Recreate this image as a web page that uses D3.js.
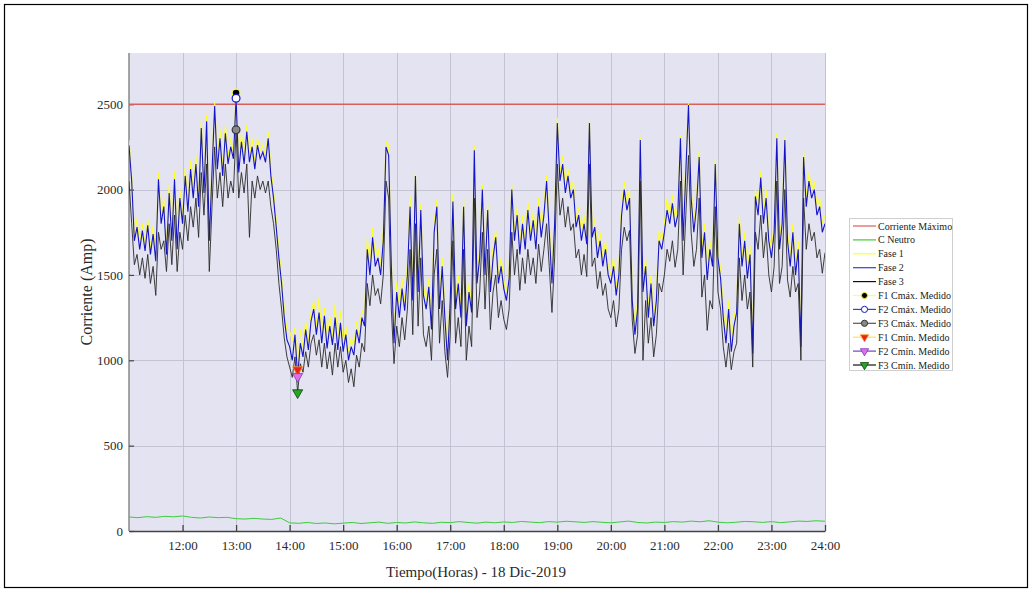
<!DOCTYPE html>
<html>
<head>
<meta charset="utf-8">
<script src="https://cdn.jsdelivr.net/npm/d3@7"></script>
<style>
  html, body { margin: 0; padding: 0; background: #fff; }
  svg { display: block; font-family: "Liberation Serif", "Times New Roman", serif; }
</style>
</head>
<body>
<svg id="chart" width="1032" height="592"></svg>
<script>
// Phase currents sampled every 3 minutes from 11:00 to 24:00 (Amp)
const startHour = 11;
const stepMinutes = 3;

const fase1 = [
  2290, 2080, 1740, 1830, 1680, 1800, 1670, 1830, 1650, 1790, 1610, 2100, 1830, 1950, 1650, 2030, 1730, 2110, 1680, 2000,
  1840, 2130, 1900, 2170, 1990, 2200, 1930, 2410, 2010, 2440, 1740, 2150, 2510, 2170, 2350, 2120, 2380, 2190, 2300, 2220,
  2565, 2150, 2330, 2190, 2380, 2200, 2300, 2160, 2300, 2230, 2260, 2200, 2340, 2120, 1990, 1820, 1640, 1490, 1300, 1170,
  1170, 1120, 1190, 945, 1180, 1080, 1230, 1110, 1280, 1350, 1200, 1370, 1150, 1310, 1120, 1260, 1140, 1330, 1110, 1290,
  1100, 1200, 1050, 1130, 1080, 1230, 1150, 1300, 1250, 1720, 1550, 1780, 1600, 1660, 1560, 1760, 2280, 2260, 1600, 1140,
  1460, 1300, 1480, 1340, 1560, 1960, 1400, 2110, 1450, 1920, 1440, 1350, 1480, 1230, 1800, 1940, 1350, 1600, 1300, 1040,
  1400, 1980, 1350, 1500, 1300, 1950, 1250, 1450, 1330, 2260, 1500, 1650, 2030, 1550, 1920, 1450, 1660, 1760, 1500, 1600,
  1470, 1400, 1530, 2030, 1750, 1900, 1670, 1850, 1700, 1930, 1750, 1870, 1700, 1950, 1770, 1900, 2080, 1800, 1500, 1850,
  2420, 2100, 2200, 2030, 2120, 2000, 2050, 1830, 1900, 1750, 1850, 1730, 2410, 1780, 1830, 1650, 1750, 1600, 1700, 1550,
  1500, 1600, 1430, 1550, 1900, 2050, 1920, 2000, 1400, 1200, 1350, 2310, 1450, 1600, 1300, 1500, 1250, 1400, 1760, 1700,
  1800, 1950, 1850, 1970, 1830, 1900, 2320, 1750, 2150, 2505, 2000, 1800, 1950, 2230, 1650, 1800, 1520, 1700, 1600, 2180,
  1650, 1530, 1300, 1150, 1350, 1100, 1250, 1330, 1850, 1600, 1750, 1530, 1670, 1090, 2000, 1900, 2110, 1850, 2000, 1750,
  1650, 1800, 2330, 1700, 1850, 2310, 1750, 1600, 1800, 1550, 1700, 1130, 2230, 1950, 2100, 2000, 2050, 1900, 1950, 1800,
  1850
];

const fase2 = [
  2260, 2050, 1700, 1780, 1650, 1760, 1640, 1790, 1620, 1740, 1580, 2060, 1800, 1900, 1620, 1980, 1700, 2060, 1650, 1950,
  1800, 2080, 1870, 2120, 1950, 2150, 1900, 2360, 1980, 2400, 1700, 2100, 2490, 2120, 2300, 2080, 2330, 2150, 2250, 2180,
  2535, 2100, 2280, 2150, 2340, 2160, 2250, 2120, 2260, 2180, 2220, 2160, 2300, 2080, 1950, 1780, 1600, 1450, 1250, 1120,
  1080, 1000, 1150, 905, 1100, 1020, 1180, 1060, 1230, 1300, 1150, 1280, 1100, 1260, 1070, 1200, 1090, 1250, 1060, 1220,
  1050, 1150, 1000, 1080, 1030, 1180, 1100, 1250, 1200, 1650, 1500, 1720, 1550, 1600, 1500, 1700, 2250, 2200, 1550, 1100,
  1400, 1250, 1420, 1290, 1500, 1900, 1350, 2080, 1400, 1880, 1380, 1300, 1430, 1180, 1750, 1900, 1300, 1550, 1250, 1000,
  1350, 1930, 1300, 1450, 1250, 1900, 1200, 1400, 1280, 2230, 1450, 1600, 2000, 1500, 1880, 1400, 1600, 1720, 1450, 1550,
  1420, 1350, 1480, 2000, 1700, 1850, 1620, 1800, 1650, 1880, 1700, 1820, 1650, 1900, 1720, 1850, 2050, 1750, 1450, 1800,
  2390, 2050, 2150, 1980, 2080, 1950, 2000, 1780, 1850, 1700, 1800, 1680, 2390, 1720, 1780, 1600, 1700, 1550, 1650, 1500,
  1450, 1550, 1380, 1500, 1850, 2000, 1880, 1950, 1350, 1150, 1300, 2290, 1400, 1550, 1250, 1450, 1200, 1350, 1700, 1650,
  1750, 1880, 1800, 1920, 1780, 1850, 2300, 1700, 2100, 2495, 1950, 1750, 1900, 2190, 1600, 1750, 1470, 1650, 1550, 2150,
  1600, 1480, 1250, 1100, 1300, 1050, 1200, 1280, 1800, 1550, 1700, 1480, 1620, 1040, 1960, 1850, 2070, 1800, 1950, 1700,
  1600, 1750, 2300, 1650, 1800, 2290, 1700, 1550, 1750, 1500, 1650, 1080, 2190, 1900, 2050, 1950, 2000, 1850, 1900, 1750,
  1800
];

const fase3 = [
  2050, 1800, 1560, 1620, 1500, 1600, 1480, 1620, 1450, 1550, 1380, 1750, 1650, 1700, 1520, 1800, 1560, 1850, 1520, 1750,
  1650, 1850, 1700, 1900, 1780, 1950, 1720, 2100, 1850, 2150, 1520, 1900, 2250, 1950, 2100, 1900, 2150, 1950, 2050, 1980,
  2350, 1950, 2100, 1980, 2150, 1720, 2050, 1950, 2080, 2000, 2050, 1980, 2050, 1900, 1800, 1650, 1450, 1300, 1130, 1020,
  960, 900, 1020, 810, 980, 930, 1050, 960, 1100, 1150, 1030, 1120, 960, 1100, 950, 1050, 913, 1100, 960, 1080,
  930, 1000, 870, 950, 845, 1030, 960, 1100, 1050, 1450, 1320, 1500, 1380, 1420, 1330, 1500, 2050, 1950, 1300, 980,
  1200, 1080, 1250, 1120, 1300, 1650, 1150, 1800, 1200, 1600, 1150, 1080, 1200, 1000, 1500, 1650, 1100, 1350, 1050, 900,
  1150, 1700, 1100, 1250, 1080, 1650, 1000, 1200, 1080, 1950, 1250, 1400, 1750, 1300, 1650, 1180, 1400, 1500, 1250, 1350,
  1240, 1180, 1300, 1750, 1500, 1650, 1410, 1600, 1450, 1650, 1500, 1600, 1450, 1680, 1520, 1650, 1800, 1550, 1280, 1600,
  2150, 1850, 1950, 1780, 1900, 1760, 1800, 1600, 1650, 1500, 1620, 1490, 2150, 1550, 1600, 1420, 1520, 1380, 1450, 1300,
  1250, 1350, 1195, 1300, 1650, 1780, 1700, 1760, 1235, 1040, 1150, 2050, 1000, 1350, 1100, 1250, 1020, 1150, 1450, 1400,
  1500, 1650, 1580, 1700, 1545, 1650, 2050, 1500, 1850, 2200, 1750, 1550, 1650, 1950, 1370, 1500, 1175, 1350, 1300, 1900,
  1400, 1300, 1080, 960, 1100, 945, 1050, 1100, 1600, 1350, 1500, 1300, 1400, 960, 1750, 1650, 1850, 1600, 1750, 1500,
  1400, 1550, 2050, 1450, 1550, 2000, 1470, 1370, 1550, 1400, 1450, 1000, 1950, 1650, 1800, 1700, 1750, 1600, 1650, 1510,
  1630
];

// Neutral current sampled every 10 minutes
const neutroStepMinutes = 10;
const neutro = [
  82, 78, 84, 80, 86, 83,
  88, 80, 76, 82, 78, 80,
  72, 70, 74, 70, 68, 76,
  48, 45, 50, 44, 47, 42,
  46, 50, 44, 48, 52, 45,
  50, 47, 53, 48, 45, 51,
  49, 55, 50, 46, 52, 48,
  53, 50, 56, 52, 49, 55,
  52, 57, 54, 50, 55, 51,
  48, 53, 58, 50, 47, 52,
  50, 55, 52, 58, 54, 60,
  52, 48, 51, 56, 54, 50,
  55, 49, 53, 58, 56, 60,
  57
];

const corrienteMaxima = 2500;

// Measured maxima (13:00) and minima (14:09) per phase
const maxHours = [13.0, 13.0, 13.0];
const maxValues = [2565, 2535, 2350];
const minHours = [14.15, 14.15, 14.15];
const minValues = [945, 905, 810];

const hourTicks = [12, 13, 14, 15, 16, 17, 18, 19, 20, 21, 22, 23, 24];
const yTicks = [0, 500, 1000, 1500, 2000, 2500];

const legendNames = [
  "Corriente Máximo", "C Neutro", "Fase 1", "Fase 2", "Fase 3",
  "F1 Cmáx. Medido", "F2 Cmáx. Medido", "F3 Cmáx. Medido",
  "F1 Cmín. Medido", "F2 Cmín. Medido", "F3 Cmín. Medido"
];

// ---------------------------------------------------------------
const svg = d3.select("#chart");
const W = 1032, H = 592;
const plot = { left: 129, right: 825, top: 53, bottom: 531 };

const x = d3.scaleLinear().domain([11, 24]).range([plot.left, plot.right]);
const y = d3.scaleLinear().domain([0, 2800]).range([plot.bottom, plot.top]);

const colors = {
  red: "#d9605a", green: "#3ccc3c", yellow: "#ffff30", blue: "#1414c8", black: "#2a2a2a"
};

// outer frame
svg.append("rect").attr("x", 4.5).attr("y", 4.5).attr("width", W - 9).attr("height", H - 9)
  .attr("fill", "#fff").attr("stroke", "#000").attr("stroke-width", 1.2);

// plot background
svg.append("rect").attr("x", plot.left).attr("y", plot.top)
  .attr("width", plot.right - plot.left).attr("height", plot.bottom - plot.top)
  .attr("fill", "#e3e3f1");

// grid
const grid = svg.append("g").attr("stroke", "#c3c3d3").attr("stroke-width", 1);
grid.selectAll("line.v").data(hourTicks).join("line")
  .attr("x1", d => Math.round(x(d)) + 0.5).attr("x2", d => Math.round(x(d)) + 0.5)
  .attr("y1", plot.top).attr("y2", plot.bottom);
grid.selectAll("line.h").data(yTicks.filter(v => v > 0)).join("line")
  .attr("x1", plot.left).attr("x2", plot.right)
  .attr("y1", d => Math.round(y(d)) + 0.5).attr("y2", d => Math.round(y(d)) + 0.5);

// axes
const xAxis = d3.axisBottom(x).tickValues(hourTicks).tickFormat(d => d + ":00")
  .tickSizeInner(-6).tickSizeOuter(0).tickPadding(10);
const gx = svg.append("g").attr("transform", `translate(0,${plot.bottom})`).call(xAxis);
gx.select(".domain").attr("stroke", "#444").attr("stroke-width", 1.3);
gx.selectAll(".tick line").attr("stroke", "#444").attr("stroke-width", 1.3);
gx.selectAll(".tick text").attr("font-size", 13).attr("fill", "#2a2a2a")
  .attr("font-family", "Liberation Serif, Times New Roman, serif");

const yAxis = d3.axisLeft(y).tickValues(yTicks).tickFormat(d3.format("d"))
  .tickSizeInner(-5).tickSizeOuter(0).tickPadding(6);
const gy = svg.append("g").attr("transform", `translate(${plot.left},0)`).call(yAxis);
gy.select(".domain").attr("stroke", "#888").attr("stroke-width", 1.5)
  .attr("d", `M0,${plot.top}V${plot.bottom}`);
gy.selectAll(".tick line").attr("stroke", "#444").attr("stroke-width", 1.2);
gy.selectAll(".tick text").attr("font-size", 13).attr("fill", "#2a2a2a")
  .attr("font-family", "Liberation Serif, Times New Roman, serif");

// series
const hourAt = (i, step) => startHour + i * step / 60;
const line = step => d3.line().x((d, i) => x(hourAt(i, step))).y(d => y(d));

svg.append("clipPath").attr("id", "plotClip").append("rect")
  .attr("x", plot.left).attr("y", plot.top)
  .attr("width", plot.right - plot.left).attr("height", plot.bottom - plot.top);

const series = svg.append("g").attr("clip-path", "url(#plotClip)").attr("fill", "none");

series.append("line").attr("x1", plot.left).attr("x2", plot.right)
  .attr("y1", y(corrienteMaxima)).attr("y2", y(corrienteMaxima))
  .attr("stroke", colors.red).attr("stroke-width", 1.5);

series.append("path").datum(neutro).attr("d", line(neutroStepMinutes))
  .attr("stroke", colors.green).attr("stroke-width", 1);
series.append("path").datum(fase1).attr("d", line(stepMinutes))
  .attr("stroke", colors.yellow).attr("stroke-width", 1.1);
series.append("path").datum(fase2).attr("d", line(stepMinutes))
  .attr("stroke", colors.blue).attr("stroke-width", 1.1);
series.append("path").datum(fase3).attr("d", line(stepMinutes))
  .attr("stroke", colors.black).attr("stroke-width", 0.9);

// markers
const maxStyles = [
  { fill: "#000", stroke: "#ffff30" },
  { fill: "#fff", stroke: "#1414c8" },
  { fill: "#888", stroke: "#333" }
];
const minStyles = [
  { fill: "#e8241a", stroke: "#ff9a20" },
  { fill: "#e46ee4", stroke: "#7a3cc0" },
  { fill: "#26a626", stroke: "#0c400c" }
];
const circleSym = d3.symbol().type(d3.symbolCircle).size(48);
const triSym = d3.symbol().type(d3.symbolTriangle).size(44);

svg.append("g").selectAll("path").data(maxValues).join("path")
  .attr("transform", (d, i) => `translate(${x(maxHours[i])},${y(d)})`)
  .attr("d", circleSym)
  .attr("fill", (d, i) => maxStyles[i].fill).attr("stroke", (d, i) => maxStyles[i].stroke)
  .attr("stroke-width", 1.2);

svg.append("g").selectAll("path").data(minValues).join("path")
  .attr("transform", (d, i) => `translate(${x(minHours[i])},${y(d)}) rotate(180)`)
  .attr("d", triSym)
  .attr("fill", (d, i) => minStyles[i].fill).attr("stroke", (d, i) => minStyles[i].stroke)
  .attr("stroke-width", 0.8);

// axis titles
svg.append("text").attr("x", (plot.left + plot.right) / 2 - 1).attr("y", 577)
  .attr("text-anchor", "middle").attr("font-size", 15).attr("fill", "#2a2a2a")
  .text("Tiempo(Horas) - 18 Dic-2019");
svg.append("text").attr("transform", `translate(92,${(plot.top + plot.bottom) / 2}) rotate(-90)`)
  .attr("text-anchor", "middle").attr("font-size", 16).attr("fill", "#2a2a2a")
  .text("Corriente (Amp)");

// legend
const lg = svg.append("g").attr("transform", "translate(849,218)");
lg.append("rect").attr("x", 0.5).attr("y", 0.5).attr("width", 103).attr("height", 152)
  .attr("fill", "#fff").attr("stroke", "#cfcfcf");
const legendLine = [colors.red, colors.green, colors.yellow, "#3c3cd8", "#111",
  "#ffff60", "#3c3cd8", "#555", "#ffe060", "#7040c8", "#111"];
const rowY = i => 8 + i * 13.9;
const rows = lg.selectAll("g.row").data(legendNames).join("g").attr("class", "row")
  .attr("transform", (d, i) => `translate(0,${rowY(i)})`);
rows.append("line").attr("x1", 4).attr("x2", 27).attr("y1", 0).attr("y2", 0)
  .attr("stroke", (d, i) => legendLine[i]).attr("stroke-width", 1.2);
rows.filter((d, i) => i >= 5 && i < 8).append("path")
  .attr("transform", "translate(15.5,0)")
  .attr("d", d3.symbol().type(d3.symbolCircle).size(30))
  .attr("fill", (d, i) => maxStyles[i].fill).attr("stroke", (d, i) => maxStyles[i].stroke);
rows.filter((d, i) => i >= 8).append("path")
  .attr("transform", "translate(15.5,0) rotate(180)")
  .attr("d", d3.symbol().type(d3.symbolTriangle).size(30))
  .attr("fill", (d, i) => minStyles[i].fill).attr("stroke", (d, i) => minStyles[i].stroke)
  .attr("stroke-width", 0.8);
rows.append("text").attr("x", 29).attr("y", 0).attr("dy", "0.35em")
  .attr("font-size", 10).attr("fill", "#222").text(d => d);
</script>
</body>
</html>
